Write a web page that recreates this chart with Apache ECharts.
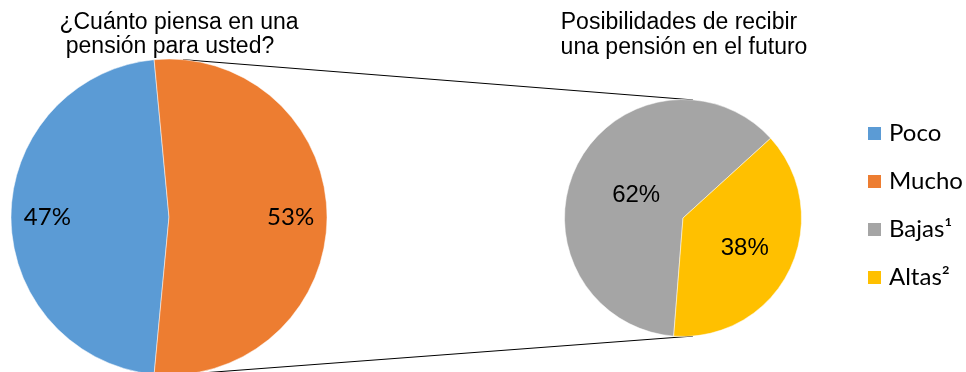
<!DOCTYPE html>
<html>
<head>
<meta charset="utf-8">
<script src="https://cdn.jsdelivr.net/npm/echarts@6/dist/echarts.min.js"></script>
<style>
  html, body { margin: 0; padding: 0; background: #fff; }
  #chart { width: 966px; height: 372px; }
</style>
</head>
<body>
<div id="chart"></div>
<script>
// Main pie: how much people think about a pension
const mainNames = ['Poco', 'Mucho'];
const mainValues = [47, 53];
// Secondary pie: chances of receiving a pension
const subNames = ['Bajas¹', 'Altas²'];
const subValues = [62, 38];
const mainTitleLines = ['¿Cuánto piensa en una', 'pensión para usted?'];
const subTitleLines = ['Posibilidades de recibir', 'una pensión en el futuro'];

const mainColors = ['#5B9BD5', '#ED7D31'];
const subColors = ['#A5A5A5', '#FFC000'];

// Layout
const L = { cx: 169, cy: 217, r: 158 };
const R = { cx: 683, cy: 218, r: 118.5 };
// Poco is centred on the left (9 o'clock): start at its clockwise-most edge
const mainStartAngle = 180 + (mainValues[0] / 100) * 180;
// Altas begins ~47.7° clockwise from 12 o'clock; Bajas precedes it
const subStartAngle = 90 - 47.7 + (subValues[0] / 100) * 360;

// label radial distances as a fraction of the radius
const mainLabelFrac = [0.77, 0.77];
const subLabelFrac = [0.44, 0.58];

function pieData(names, values, colors) {
  return names.map((n, i) => ({ name: n, value: values[i], itemStyle: { color: colors[i] } }));
}

function radialLayout(center, fracs) {
  return function (p) {
    const rc = p.labelRect;
    const lx = rc.x + rc.width / 2, ly = rc.y + rc.height / 2;
    const dx = lx - center.cx, dy = ly - center.cy;
    const d = Math.sqrt(dx * dx + dy * dy) || 1;
    const target = fracs[p.dataIndex] * center.r;
    return { dx: dx / d * (target - d), dy: dy / d * (target - d) };
  };
}

// connector lines between the two pies (from ~5° off vertical on both circles)
function pointOn(c, degFromTop) {
  const a = degFromTop * Math.PI / 180;
  return [c.cx + c.r * Math.sin(a), c.cy - c.r * Math.cos(a)];
}
const lt = pointOn(L, 5.1), lb = pointOn(L, 174.9);
const rt = pointOn(R, 4.8), rb = pointOn(R, 175.2);

const titleFont = { fontFamily: 'Liberation Sans', fontSize: 23, fontWeight: 'normal', color: '#000', lineHeight: 24 };
function titleLine(text, cx, top) {
  return { text: text, left: cx, top: top, textAlign: 'center', padding: 0, textStyle: titleFont };
}

const chart = echarts.init(document.getElementById('chart'), null, { renderer: 'canvas' });
chart.setOption({
  animation: false,
  backgroundColor: '#ffffff',
  title: [
    titleLine(mainTitleLines[0], 179, 11),
    titleLine(mainTitleLines[1], 170, 35),
    titleLine(subTitleLines[0], 679, 11),
    titleLine(subTitleLines[1], 684, 36)
  ],
  legend: {
    orient: 'vertical',
    left: 866,
    top: 121.5,
    padding: 0,
    icon: 'rect',
    itemWidth: 15,
    itemHeight: 15,
    itemGap: 24,
    data: mainNames.concat(subNames),
    textStyle: { fontFamily: 'Lato', fontSize: 24, color: '#000', lineHeight: 24, padding: [0, 0, 0, 2] }
  },
  graphic: [
    { type: 'line', z: 0, shape: { x1: lt[0], y1: lt[1], x2: rt[0], y2: rt[1] }, style: { stroke: '#000', lineWidth: 1 } },
    { type: 'line', z: 0, shape: { x1: lb[0], y1: lb[1], x2: rb[0], y2: rb[1] }, style: { stroke: '#000', lineWidth: 1 } }
  ],
  series: [
    {
      type: 'pie',
      center: [L.cx, L.cy],
      radius: [0, L.r],
      startAngle: mainStartAngle,
      clockwise: true,
      silent: true,
      z: 5,
      itemStyle: { borderColor: '#fff', borderWidth: 0.5 },
      label: {
        show: true, position: 'inside', formatter: '{c}%',
        fontFamily: 'Lato', fontSize: 24, color: '#000'
      },
      labelLayout: radialLayout(L, mainLabelFrac),
      labelLine: { show: false },
      data: pieData(mainNames, mainValues, mainColors)
    },
    {
      type: 'pie',
      center: [R.cx, R.cy],
      radius: [0, R.r],
      startAngle: subStartAngle,
      clockwise: true,
      silent: true,
      z: 5,
      itemStyle: { borderColor: '#fff', borderWidth: 0.5 },
      label: {
        show: true, position: 'inside', formatter: '{c}%',
        fontFamily: 'Liberation Sans', fontSize: 24, color: '#000'
      },
      labelLayout: radialLayout(R, subLabelFrac),
      labelLine: { show: false },
      data: pieData(subNames, subValues, subColors)
    }
  ]
});
</script>
</body>
</html>
